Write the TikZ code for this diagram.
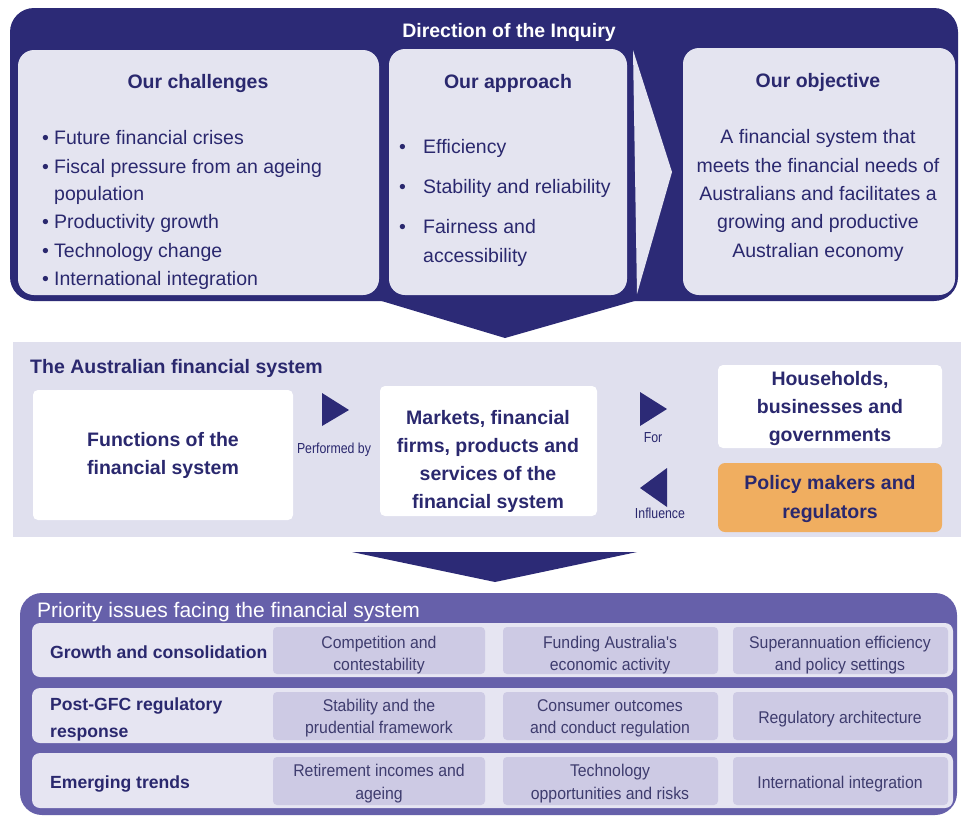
\documentclass[tikz,border=0pt]{standalone}
\usepackage{fontspec}
\setmainfont{Liberation Sans}
\newfontfamily\narrowf[FakeStretch=0.93]{Liberation Sans}
\newfontfamily\tinyf[FakeStretch=0.85]{Liberation Sans}
\usetikzlibrary{fit}
\definecolor{navy}{RGB}{44,42,118}
\definecolor{txt}{RGB}{42,40,110}
\definecolor{lav}{RGB}{228,228,240}
\definecolor{band}{RGB}{224,224,238}
\definecolor{orng}{RGB}{240,174,96}
\definecolor{purp}{RGB}{102,96,170}
\definecolor{rowc}{RGB}{230,229,242}
\definecolor{cellc}{RGB}{205,202,228}
\definecolor{celltxt}{RGB}{62,60,110}
\tikzset{
  area/.style={inner sep=0pt, outer sep=0pt},
  ln/.style={inner sep=0pt, anchor=base, text=txt},
  lnw/.style={inner sep=0pt, anchor=base west, text=txt},
  body/.style={font=\fontsize{19.5}{24}\selectfont},
  hd/.style={font=\fontsize{19.5}{24}\selectfont\bfseries},
  lab/.style={inner sep=0pt, anchor=center, text=txt, font=\tinyf\fontsize{14.5}{16}\selectfont},
  rowlab/.style={inner sep=0pt, anchor=base west, text=txt, font=\fontsize{17.6}{22}\selectfont\bfseries},
  cell/.style={inner sep=0pt, anchor=base, text=celltxt, font=\narrowf\fontsize{17}{22}\selectfont},
}
\begin{document}
\begin{tikzpicture}[x=1pt,y=-1pt]
\useasboundingbox (0,0) rectangle (961,817);
\fill[white] (0,0) rectangle (961,817);

% ---------------- Direction of the Inquiry ----------------
\node[area, fill=navy, rounded corners=24, fit={(10,8) (958,301)}] (dir) {};
\fill[navy] (365,296) -- (652,296) -- (505,338) -- cycle;
\node[ln, hd, text=white] (dirt) at (509,37) {Direction of the Inquiry};

\node[area, fill=lav, rounded corners=16, fit={(18,50) (379,295)}] (chal) {};
\node[area, fill=lav, rounded corners=16, fit={(389,49) (627,295)}] (appr) {};
\fill[lav] (633,50) -- (672,172) -- (637,294) -- cycle;
\node[area, fill=lav, rounded corners=16, fit={(683,48) (955,295)}] (obj) {};

\node[ln, hd] (chalt) at (198,88) {Our challenges};
\node[lnw, body] (c1) at (42,144) {\makebox[12pt][l]{•}Future financial crises};
\node[lnw, body] (c2) at (42,173) {\makebox[12pt][l]{•}Fiscal pressure from an ageing};
\node[lnw, body] (c3) at (54,200) {population};
\node[lnw, body] (c4) at (42,228) {\makebox[12pt][l]{•}Productivity growth};
\node[lnw, body] (c5) at (42,257) {\makebox[12pt][l]{•}Technology change};
\node[lnw, body] (c6) at (42,285) {\makebox[12pt][l]{•}International integration};

\node[ln, hd] (apprt) at (508,88) {Our approach};
\node[lnw, body] (a1) at (399,153) {\makebox[24pt][l]{•}Efficiency};
\node[lnw, body] (a2) at (399,193) {\makebox[24pt][l]{•}Stability and reliability};
\node[lnw, body] (a3) at (399,233) {\makebox[24pt][l]{•}Fairness and};
\node[lnw, body] (a4) at (423,262) {accessibility};

\node[ln, hd] (objt) at (818,87) {Our objective};
\node[ln, body] (o1) at (818,143) {A financial system that};
\node[ln, body] (o2) at (818,172) {meets the financial needs of};
\node[ln, body] (o3) at (818,200) {Australians and facilitates a};
\node[ln, body] (o4) at (818,228) {growing and productive};
\node[ln, body] (o5) at (818,257) {Australian economy};

% ---------------- The Australian financial system ----------------
\node[area, fill=band, fit={(13,342) (961,537)}] (afs) {};
\node[lnw, hd] (afst) at (30,373) {The Australian financial system};

\node[area, fill=white, rounded corners=5, fit={(33,390) (293,520)}] (func) {};
\node[ln, hd] (f1) at (163,446) {Functions of the};
\node[ln, hd] (f2) at (163,474) {financial system};

\node[area, fill=white, rounded corners=5, fit={(380,386) (597,516)}] (mkt) {};
\node[ln, hd] (m1) at (488,424) {Markets, financial};
\node[ln, hd] (m2) at (488,452) {firms, products and};
\node[ln, hd] (m3) at (488,480) {services of the};
\node[ln, hd] (m4) at (488,508) {financial system};

\node[area, fill=white, rounded corners=5, fit={(718,365) (942,448)}] (hh) {};
\node[ln, hd] (h1) at (830,385) {Households,};
\node[ln, hd] (h2) at (830,413) {businesses and};
\node[ln, hd] (h3) at (830,441) {governments};

\node[area, fill=orng, rounded corners=7, fit={(718,463) (942,532)}] (pol) {};
\node[ln, hd] (p1) at (830,489) {Policy makers and};
\node[ln, hd] (p2) at (830,518) {regulators};

\fill[navy] (322,393) -- (349,410) -- (322,426) -- cycle;
\node[lab] (perf) at (334,450) {Performed by};
\fill[navy] (640,392) -- (667,409) -- (640,426) -- cycle;
\node[lab] (for) at (653,438) {For};
\fill[navy] (667,468) -- (640,488) -- (667,507) -- cycle;
\node[lab] (infl) at (660,513) {Influence};

\fill[navy] (352,552) -- (637,552) -- (495,582) -- cycle;

% ---------------- Priority issues ----------------
\node[area, fill=purp, rounded corners=22, fit={(20,593) (957,815)}] (prio) {};
\node[inner sep=0pt, anchor=base west, text=white, font=\fontsize{21}{24}\selectfont] (priot) at (37,617) {Priority issues facing the financial system};

\node[area, fill=rowc, rounded corners=8, fit={(32,623) (953,677)}] (r1) {};
\node[area, fill=rowc, rounded corners=8, fit={(32,688) (953,743)}] (r2) {};
\node[area, fill=rowc, rounded corners=8, fit={(32,753) (953,808)}] (r3) {};

\foreach \r/\t/\b in {1/627/674, 2/692/740, 3/757/805}{
  \node[area, fill=cellc, rounded corners=4, fit={(273,\t) (485,\b)}] (k\r a) {};
  \node[area, fill=cellc, rounded corners=4, fit={(503,\t) (718,\b)}] (k\r b) {};
  \node[area, fill=cellc, rounded corners=4, fit={(733,\t) (948,\b)}] (k\r c) {};
}

\node[rowlab] (l1) at (50,658) {Growth and consolidation};
\node[rowlab] (l2a) at (50,710) {Post-GFC regulatory};
\node[rowlab] (l2b) at (50,737) {response};
\node[rowlab] (l3) at (50,788) {Emerging trends};

\node[cell] (t11a) at (379,648) {Competition and};
\node[cell] (t11b) at (379,670) {contestability};
\node[cell] (t12a) at (610,648) {Funding Australia's};
\node[cell] (t12b) at (610,670) {economic activity};
\node[cell] (t13a) at (840,648) {Superannuation efficiency};
\node[cell] (t13b) at (840,670) {and policy settings};

\node[cell] (t21a) at (379,711) {Stability and the};
\node[cell] (t21b) at (379,733) {prudential framework};
\node[cell] (t22a) at (610,711) {Consumer outcomes};
\node[cell] (t22b) at (610,733) {and conduct regulation};
\node[cell] (t23) at (840,723) {Regulatory architecture};

\node[cell] (t31a) at (379,776) {Retirement incomes and};
\node[cell] (t31b) at (379,799) {ageing};
\node[cell] (t32a) at (610,776) {Technology};
\node[cell] (t32b) at (610,799) {opportunities and risks};
\node[cell] (t33) at (840,788) {International integration};
\end{tikzpicture}
\end{document}
